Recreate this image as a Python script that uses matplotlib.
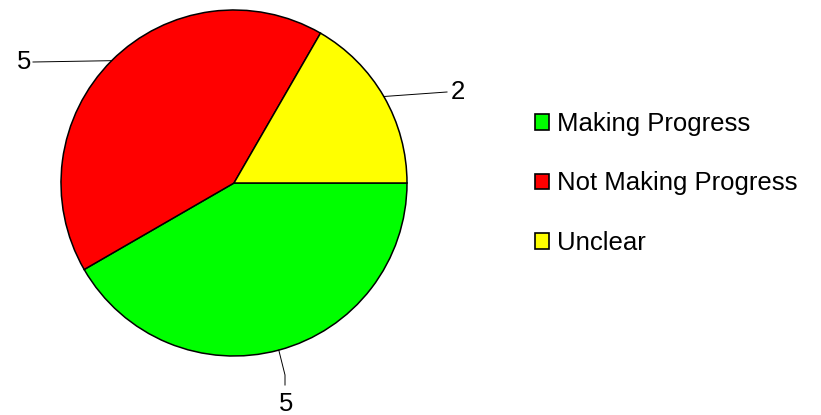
import numpy as np
import matplotlib
matplotlib.use("Agg")
import matplotlib.pyplot as plt

plt.rcParams['font.family'] = ['Liberation Sans', 'DejaVu Sans']

categories = ["Making Progress", "Not Making Progress", "Unclear"]
values = [5, 5, 2]
colors = ["#00FF00", "#FF0000", "#FFFF00"]

W, H = 821, 415
fig = plt.figure(figsize=(W / 100, H / 100), dpi=100)
cx, cy, r = 234, 183, 173
ax = fig.add_axes([(cx - r) / W, (H - cy - r) / H, 2 * r / W, 2 * r / H])
wedges, _ = ax.pie(values, colors=colors, startangle=0, counterclock=False,
                   wedgeprops=dict(edgecolor="black", linewidth=1.1))
ax.set_xlim(-1, 1)
ax.set_ylim(-1, 1)

def px(x, y):
    return (x - cx) / r, (cy - y) / r

# leader lines and value labels
for w, v in zip(wedges, values):
    mid = np.deg2rad((w.theta1 + w.theta2) / 2)
    ex, ey = np.cos(mid), np.sin(mid)
    if ey > 0.6 and ex < 0:  # upper-left
        x1, y1 = px(33, 62)
        ax.plot([ex, x1], [ey, y1], color="black", lw=0.7, clip_on=False)
        ax.text(x1 - 0.01, y1, str(v), ha="right", va="center", fontsize=18.5, clip_on=False)
    elif ex > 0 and ey > 0:  # right
        x1, y1 = px(447, 92)
        ax.plot([ex, x1], [ey, y1], color="black", lw=0.7, clip_on=False)
        ax.text(x1 + 0.02, y1, str(v), ha="left", va="center", fontsize=18.5, clip_on=False)
    else:  # bottom
        x1, y1 = px(285, 375)
        x2, y2 = px(285, 385)
        ax.plot([ex, x1, x2], [ey, y1, y2], color="black", lw=0.7, clip_on=False)
        tx, ty = px(286, 404)
        ax.text(tx, ty, str(v), ha="center", va="center", fontsize=18.5, clip_on=False)

leg = fig.legend(wedges, categories, loc="upper left",
                 bbox_to_anchor=(535 / W, 1 - 112 / H), frameon=False,
                 fontsize=18.5, handlelength=0.55, handleheight=0.55,
                 handletextpad=0.3, labelspacing=1.38, borderpad=0, borderaxespad=0)
for h in leg.legend_handles:
    h.set_edgecolor("black")
    h.set_linewidth(1.2)

fig.savefig("out.png", dpi=100)
